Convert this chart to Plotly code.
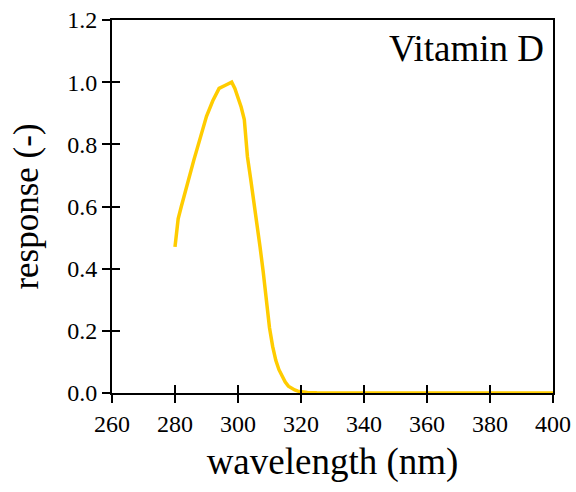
import plotly.graph_objects as go

wavelength = [280, 281, 282, 284, 286, 288, 290, 292, 294, 296, 298, 299, 300, 301, 302, 303, 304, 305, 306, 307, 308,
              309, 310, 311, 312, 313, 314, 315, 316, 317, 318, 319, 320, 322, 325, 330, 340, 350, 360, 370, 380, 390, 400]
response = [0.47, 0.56, 0.60, 0.68, 0.75, 0.82, 0.89, 0.94, 0.98, 0.99, 1.00, 0.98, 0.95, 0.92, 0.88, 0.76, 0.69, 0.62, 0.55, 0.47, 0.39,
            0.30, 0.21, 0.15, 0.105, 0.075, 0.053, 0.035, 0.022, 0.015, 0.010, 0.006, 0.004, 0.002, 0.001, 0.0, 0.0, 0.0, 0.0, 0.0, 0.0, 0.0, 0.0]

x_ticks = [260, 280, 300, 320, 340, 360, 380, 400]
y_ticks = [0.0, 0.2, 0.4, 0.6, 0.8, 1.0, 1.2]

FONT = "Liberation Serif, Times New Roman, serif"

fig = go.Figure()
fig.add_trace(go.Scatter(x=wavelength, y=response, mode="lines",
                         line=dict(color="#FFCC00", width=3.5), showlegend=False))

fig.update_layout(
    width=576, height=492,
    margin=dict(l=112, r=23, t=20, b=99),
    plot_bgcolor="white", paper_bgcolor="white",
    font=dict(family=FONT, color="black", size=24),
    xaxis=dict(range=[260, 400], tickvals=x_ticks, ticks="outside", ticklen=8, tickwidth=1.5,
               tickcolor="black", showline=True, linecolor="black", linewidth=2, mirror=True,
               showgrid=False, zeroline=False, tickfont=dict(size=24, family=FONT), automargin="height",
               title=dict(text="wavelength (nm)", font=dict(size=37, family=FONT), standoff=12)),
    yaxis=dict(range=[0, 1.2], tickvals=y_ticks, tickformat=".1f", ticks="outside", ticklen=8, tickwidth=1.5,
               tickcolor="black", showline=True, linecolor="black", linewidth=2, mirror=True,
               showgrid=False, zeroline=False, tickfont=dict(size=24, family=FONT), automargin="width",
               title=dict(text="response (-)", font=dict(size=35, family=FONT), standoff=18)),
    xaxis2=dict(range=[260, 400], tickvals=x_ticks, ticks="inside", ticklen=8, tickwidth=1.5,
                tickcolor="black", showticklabels=False, showline=False, showgrid=False, zeroline=False,
                overlaying="x", anchor="y", side="bottom", automargin=False),
    yaxis2=dict(range=[0, 1.2], tickvals=y_ticks, ticks="inside", ticklen=8, tickwidth=1.5,
                tickcolor="black", showticklabels=False, showline=False, showgrid=False, zeroline=False,
                overlaying="y", anchor="x", side="left", automargin=False),
    annotations=[dict(text="Vitamin D", xref="paper", yref="paper", x=0.985, y=0.985,
                      xanchor="right", yanchor="top", showarrow=False,
                      font=dict(size=37, family=FONT, color="black"))],
)
# invisible trace to activate the overlay axes (tick crossing)
fig.add_trace(go.Scatter(x=[wavelength[0]], y=[response[0]], xaxis="x2", yaxis="y2", mode="markers",
                         marker=dict(opacity=0), showlegend=False, hoverinfo="skip"))

fig.write_html(
    "out.html",
    config={"displayModeBar": False, "responsive": False},
    post_script=("document.documentElement.style.margin='0';document.documentElement.style.overflow='hidden';"
                 "document.body.style.margin='0';document.body.style.padding='0';document.body.style.overflow='hidden';"),
)
